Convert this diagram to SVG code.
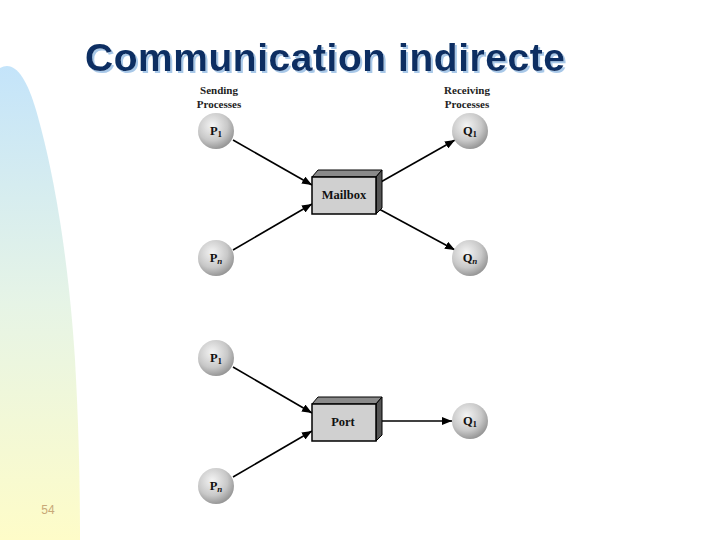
<svg xmlns="http://www.w3.org/2000/svg" width="720" height="540" viewBox="0 0 720 540">
<defs>
<linearGradient id="side" x1="0" y1="0" x2="0" y2="1">
<stop offset="0" stop-color="#c4e4fa"/>
<stop offset="0.5" stop-color="#e6f4e6"/>
<stop offset="1" stop-color="#fefcc8"/>
</linearGradient>
<radialGradient id="ball" cx="0.4" cy="0.35" r="0.7">
<stop offset="0" stop-color="#f4f4f4"/>
<stop offset="0.6" stop-color="#c8c8c8"/>
<stop offset="1" stop-color="#8e8e8e"/>
</radialGradient>
<filter id="tshadow" x="-5%" y="-20%" width="110%" height="150%">
<feDropShadow dx="2" dy="2" stdDeviation="0.6" flood-color="#a8c8e8" flood-opacity="1"/>
</filter>
<marker id="arr" viewBox="0 0 10 8" refX="10" refY="4" markerWidth="10" markerHeight="8" markerUnits="userSpaceOnUse" orient="auto">
<path d="M0,0 L10,4 L0,8 Z" fill="#000"/>
</marker>
</defs>
<style>
.ball{fill:url(#ball);}
.lbl{font-family:"Liberation Serif",serif;font-weight:bold;font-size:12.5px;fill:#111;text-anchor:middle;}
.sub{font-size:9px;}
.hdr{font-family:"Liberation Serif",serif;font-weight:bold;font-size:11px;fill:#222;text-anchor:middle;}
.conn{stroke:#000;stroke-width:1.6;fill:none;marker-end:url(#arr);}
.front{fill:#d0d0d0;stroke:#000;stroke-width:1.5;}
.top{fill:#8a8a8a;stroke:#000;stroke-width:1;}
.side{fill:#555;stroke:#000;stroke-width:1;}
</style>
<rect width="720" height="540" fill="#fff"/>
<path d="M0,540 L0,68 C14,60 26,76 36,110 C52,165 68,250 75,360 C79,430 80,490 80,540 Z" fill="url(#side)"/>
<text x="48" y="514" font-family="Liberation Sans,Arial,sans-serif" font-size="12" fill="#c8a878" text-anchor="middle">54</text>
<g id="title">
<text x="85" y="71" font-family="Liberation Sans,Arial,sans-serif" font-weight="bold" font-size="39" textLength="480" fill="#0b2f62" filter="url(#tshadow)">Communication indirecte</text>
</g>
<g id="headers">
<text class="hdr" x="219" y="94">Sending</text>
<text class="hdr" x="219" y="108">Processes</text>
<text class="hdr" x="467" y="94">Receiving</text>
<text class="hdr" x="467" y="108">Processes</text>
</g>
<g id="connectors">
<line class="conn" x1="233" y1="140" x2="312" y2="185"/>
<line class="conn" x1="233" y1="250" x2="312" y2="204"/>
<line class="conn" x1="379" y1="183" x2="455" y2="140"/>
<line class="conn" x1="379" y1="209" x2="455" y2="250"/>
<line class="conn" x1="233" y1="367" x2="312" y2="413"/>
<line class="conn" x1="233" y1="477" x2="312" y2="431"/>
<line class="conn" x1="378" y1="421" x2="452" y2="421"/>
</g>
<g id="mailbox">
<path class="top" d="M312,177 L318,170 L382,170 L376,177 Z"/>
<path class="side" d="M376,177 L382,170 L382,208 L376,214 Z"/>
<rect class="front" x="312" y="177" width="64" height="37"/>
<text class="lbl" x="344" y="199">Mailbox</text>
</g>
<g id="port">
<path class="top" d="M312,404 L318,397 L382,397 L376,404 Z"/>
<path class="side" d="M376,404 L382,397 L382,435 L376,441 Z"/>
<rect class="front" x="312" y="404" width="64" height="37"/>
<text class="lbl" x="343" y="426">Port</text>
</g>
<g id="p1a"><circle class="ball" cx="216" cy="131" r="18"/><text class="lbl" x="216" y="135">P<tspan class="sub" dy="2">1</tspan></text></g>
<g id="pna"><circle class="ball" cx="216" cy="258" r="18"/><text class="lbl" x="216" y="262">P<tspan class="sub" dy="2" font-style="italic">n</tspan></text></g>
<g id="q1a"><circle class="ball" cx="470" cy="131" r="18"/><text class="lbl" x="470" y="135">Q<tspan class="sub" dy="2">1</tspan></text></g>
<g id="qna"><circle class="ball" cx="470" cy="258" r="18"/><text class="lbl" x="470" y="262">Q<tspan class="sub" dy="2" font-style="italic">n</tspan></text></g>
<g id="p1b"><circle class="ball" cx="216" cy="358" r="18"/><text class="lbl" x="216" y="362">P<tspan class="sub" dy="2">1</tspan></text></g>
<g id="pnb"><circle class="ball" cx="216" cy="486" r="18"/><text class="lbl" x="216" y="490">P<tspan class="sub" dy="2" font-style="italic">n</tspan></text></g>
<g id="q1b"><circle class="ball" cx="470" cy="421" r="18"/><text class="lbl" x="470" y="425">Q<tspan class="sub" dy="2">1</tspan></text></g>
</svg>
